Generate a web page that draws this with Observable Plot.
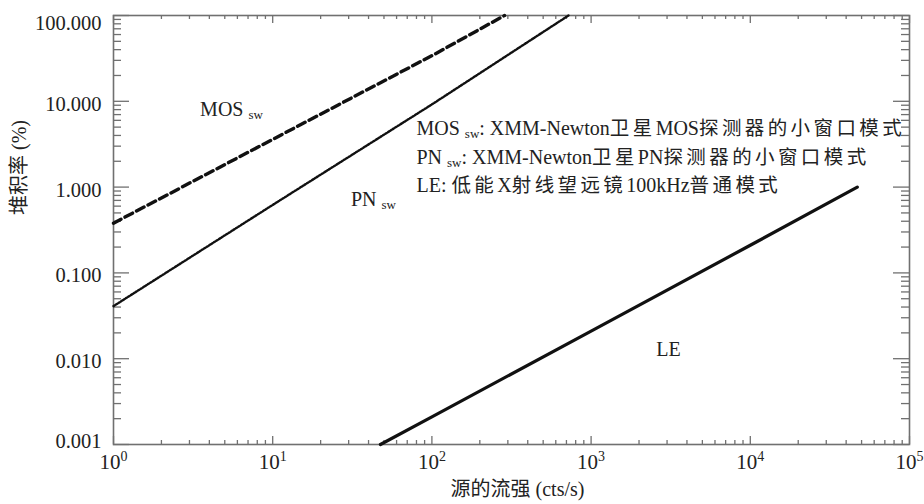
<!DOCTYPE html>
<html><head><meta charset="utf-8">
<script src="https://cdn.jsdelivr.net/npm/d3@7"></script>
<script src="https://cdn.jsdelivr.net/npm/@observablehq/plot@0.6"></script>
<style>body{margin:0;background:#fff}</style>
</head><body><div id="chart"></div>
<script>
// ---- data ----
const mosX = [1, 10, 100, 286];
const mosY = [0.38, 3.6, 34, 100];
const pnX = [1, 10, 100, 721];
const pnY = [0.041, 0.62, 9.2, 100];
const leX = [47.5, 100, 1000, 10000, 47000];
const leY = [0.001, 0.0021, 0.021, 0.21, 1.0];

const xTicks = [1, 10, 100, 1000, 10000, 100000];
const yTicks = [0.001, 0.01, 0.1, 1, 10, 100];

const seriesLabels = ["MOS _sw", "PN _sw", "LE"];
const seriesLabelX = [3.5, 31, 2570];
const seriesLabelY = [7.9, 0.71, 0.0127];

const legendLines = [
  "MOS _sw: XMM-Newton卫星MOS探测器的小窗口模式",
  "PN _sw: XMM-Newton卫星PN探测器的小窗口模式",
  "LE: 低能X射线望远镜100kHz普通模式"
];
const legendX = [80, 80, 80];
const legendY = [4.85, 2.23, 1.05];

const xTitle = "源的流强 (cts/s)";
const yTitle = "堆积率 (%)";

// ---- layout ----
const W = 924, H = 504, mT = 15, mB = 60, mL = 113, mR = 15;
const innerH = H - mT - mB, innerW = W - mL - mR;
const axisColor = "#707070";
const LATIN = "Liberation Serif";
const CJK = "Noto Sans CJK SC";
const FONT = `'${LATIN}','${CJK}',serif`;

const toPts = (xs, ys) => xs.map((x, i) => ({x, y: ys[i]}));
const mos = toPts(mosX, mosY), pn = toPts(pnX, pnY), le = toPts(leX, leY);

const minorX = [], minorY = [];
for (let k = 0; k < 5; k++) for (let m = 2; m <= 9; m++) minorX.push(m * 10 ** k);
for (let k = -3; k < 2; k++) for (let m = 2; m <= 9; m++) minorY.push(+(m * 10 ** k).toPrecision(3));

const labels = seriesLabels.map((t, i) => ({t, x: seriesLabelX[i], y: seriesLabelY[i]}));
const legend = legendLines.map((t, i) => ({t, x: legendX[i], y: legendY[i]}));

const tk = {stroke: axisColor, strokeWidth: 1.3};

const chart = Plot.plot({
  width: W, height: H,
  marginTop: mT, marginBottom: mB, marginLeft: mL, marginRight: mR,
  style: {fontFamily: FONT, fontSize: "20px", background: "#fff", color: "#222"},
  x: {type: "log", domain: [1, 1e5], axis: null},
  y: {type: "log", domain: [0.001, 100], axis: null},
  marks: [
    // inward ticks: bottom, top, left, right
    Plot.tickX(xTicks, {x: d => d, insetTop: innerH - 8, ...tk}),
    Plot.tickX(minorX, {x: d => d, insetTop: innerH - 4, ...tk}),
    Plot.tickX(xTicks, {x: d => d, insetBottom: innerH - 8, ...tk}),
    Plot.tickX(minorX, {x: d => d, insetBottom: innerH - 4, ...tk}),
    Plot.tickY(yTicks, {y: d => d, insetRight: innerW - 16, ...tk}),
    Plot.tickY(minorY, {y: d => d, insetRight: innerW - 8, ...tk}),
    Plot.tickY(yTicks, {y: d => d, insetLeft: innerW - 16, ...tk}),
    Plot.tickY(minorY, {y: d => d, insetLeft: innerW - 8, ...tk}),
    Plot.frame({stroke: axisColor, strokeWidth: 1.6}),
    Plot.axisX({ticks: xTicks, tickSize: 0, tickPadding: 10, fontSize: 21, tickFormat: d => "10^" + Math.round(Math.log10(d)), label: null}),
    Plot.axisY({ticks: yTicks, tickSize: 0, tickPadding: 12, fontSize: 20.5, dy: 3, tickFormat: d3.format(".3f"), label: null}),
    // series
    Plot.line(mos, {x: "x", y: "y", stroke: "#111", strokeWidth: 3.4, strokeDasharray: "8.5,4.5"}),
    Plot.line(pn, {x: "x", y: "y", stroke: "#111", strokeWidth: 2.4, strokeDasharray: "1.6,1.3"}),
    Plot.line(le, {x: "x", y: "y", stroke: "#111", strokeWidth: 3.2}),
    // annotations
    Plot.text(labels, {x: "x", y: "y", text: "t", textAnchor: "start", fontSize: 20, fill: "#222"}),
    Plot.text(legend, {x: "x", y: "y", text: "t", textAnchor: "start", fontSize: 20, fill: "#222"}),
    // axis titles
    Plot.text([xTitle], {text: d => d, frameAnchor: "bottom", dx: 6, dy: 51, fontSize: 20, fill: "#222"}),
    Plot.text([yTitle], {text: d => d, frameAnchor: "left", dx: -94, dy: -15, rotate: -90, fontSize: 20, fill: "#222"})
  ]
});

// rich text: superscripts (10^n), subscripts (_sw), explicit Latin/CJK font runs
const NS = "http://www.w3.org/2000/svg";
const isCJK = c => /[\u2E80-\u9FFF\uF900-\uFAFF\uFF00-\uFFEF]/.test(c);
function runs(str) {
  const out = [];
  for (const ch of str) {
    const f = isCJK(ch) ? CJK : LATIN;
    if (out.length && out[out.length - 1].f === f) out[out.length - 1].s += ch;
    else out.push({f, s: ch});
  }
  return out;
}
function span(s, attrs) {
  const e = document.createElementNS(NS, "tspan");
  e.textContent = s;
  for (const k in attrs) e.setAttribute(k, attrs[k]);
  return e;
}
chart.querySelectorAll("text").forEach(t => {
  if (t.querySelector("tspan")) return;
  const s = t.textContent;
  if (s.includes("^")) {
    const [base, exp] = s.split("^");
    t.textContent = "";
    t.append(span(base, {"font-family": LATIN}), span(exp, {dy: "-8", "font-size": "14", "font-family": LATIN}));
    return;
  }
  const isLegend = legendLines.includes(s);
  const segs = [];
  const i = s.indexOf("_sw");
  if (i >= 0) {
    segs.push({s: s.slice(0, i)}, {s: "sw", sub: true});
    if (s.length > i + 3) segs.push({s: s.slice(i + 3), after: true});
  } else segs.push({s});
  t.textContent = "";
  for (const seg of segs) {
    runs(seg.s).forEach((r, j) => {
      const a = {"font-family": r.f};
      if (isLegend && r.f === CJK) { a["font-size"] = "19.5"; a["letter-spacing"] = "3.4"; }
      if (seg.sub) { a["font-size"] = "13"; if (j === 0) a.dy = "3"; }
      if (seg.after && j === 0) a.dy = "-3";
      t.append(span(r.s, a));
    });
  }
});
// nudge the end labels of the y axis inward like the reference
chart.querySelectorAll('g[aria-label="y-axis tick label"] text').forEach(t => {
  const v = t.textContent;
  const tr = t.getAttribute("transform") || "";
  if (v === "100.000") t.setAttribute("transform", tr + " translate(0,5)");
  if (v === "0.001") t.setAttribute("transform", tr + " translate(0,-6)");
});
document.getElementById("chart").append(chart);
</script>
</body></html>
